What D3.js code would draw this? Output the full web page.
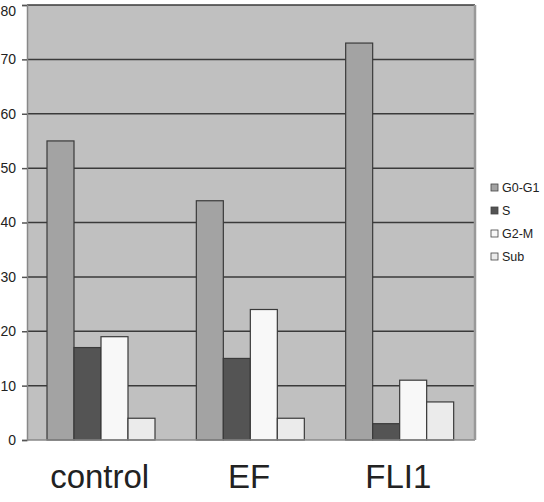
<!DOCTYPE html>
<html>
<head>
<meta charset="utf-8">
<script src="https://cdn.jsdelivr.net/npm/d3@7"></script>
<style>
	body { margin: 0; background: #fff; }
	text { font-family: "Liberation Sans", Arial, sans-serif; fill: #222; }
</style>
</head>
<body>
<svg id="svg"></svg>
<script>
const categories = ['control', 'EF', 'FLI1'];
const series = ['G0-G1', 'S', 'G2-M', 'Sub'];
const values = {
	'G0-G1': [55, 44, 73],
	'S': [17, 15, 3],
	'G2-M': [19, 24, 11],
	'Sub': [4, 4, 7]
};
const yTicks = [0, 10, 20, 30, 40, 50, 60, 70, 80];
const colors = {'G0-G1': '#a3a3a3', 'S': '#545454', 'G2-M': '#f8f8f8', 'Sub': '#ebebeb'};

const width = 544, height = 502;
const plot = {left: 27, right: 475, top: 5, bottom: 440};

const svg = d3.select('#svg').attr('width', width).attr('height', height);

const x0 = d3.scaleBand()
	.domain(categories)
	.range([plot.left, plot.right]);
const x1 = d3.scaleBand()
	.domain(series)
	.range([20, 128]);
const y = d3.scaleLinear()
	.domain([0, 80])
	.range([plot.bottom, plot.top]);

// plot background
svg.append('rect')
	.attr('x', plot.left)
	.attr('y', plot.top)
	.attr('width', plot.right - plot.left)
	.attr('height', plot.bottom - plot.top)
	.attr('fill', '#c0c0c0');

// gridlines
svg.append('g').selectAll('line')
	.data(yTicks.filter(d => d > 0))
	.enter()
	.append('line')
		.attr('x1', plot.left)
		.attr('x2', plot.right)
		.attr('y1', d => y(d))
		.attr('y2', d => y(d))
		.attr('stroke', '#3a3a3a')
		.attr('stroke-width', 1.5);

// y axis
const yAxis = svg.append('g')
	.attr('transform', `translate(${plot.left},0)`)
	.call(d3.axisLeft(y).tickValues(yTicks).tickSize(5).tickPadding(6));
yAxis.select('.domain').attr('stroke', '#888').attr('stroke-width', 1.5);
yAxis.selectAll('.tick line').attr('stroke', '#555').attr('stroke-width', 1.5);
yAxis.selectAll('.tick text')
	.style('font-family', '"Liberation Sans", Arial, sans-serif')
	.style('font-size', '14px')
	.attr('fill', '#222')
	.attr('dy', d => d === 80 ? '0.75em' : '0.32em');

// bars
const groupG = svg.selectAll('g.group')
	.data(categories)
	.enter()
	.append('g')
		.attr('class', 'group')
		.attr('transform', d => `translate(${x0(d)},0)`);

groupG.selectAll('rect')
	.data((cat, i) => series.map(s => ({key: s, value: values[s][i]})))
	.enter()
	.append('rect')
		.attr('x', d => x1(d.key))
		.attr('y', d => y(d.value))
		.attr('width', x1.bandwidth())
		.attr('height', d => y(0) - y(d.value))
		.attr('fill', d => colors[d.key])
		.attr('stroke', '#3a3a3a')
		.attr('stroke-width', 1.2);

// bottom and right frame
svg.append('line')
	.attr('x1', plot.left).attr('x2', plot.right)
	.attr('y1', plot.bottom).attr('y2', plot.bottom)
	.attr('stroke', '#888').attr('stroke-width', 1.5);
svg.append('line')
	.attr('x1', plot.right).attr('x2', plot.right)
	.attr('y1', plot.top).attr('y2', plot.bottom)
	.attr('stroke', '#999').attr('stroke-width', 2.5);

// category labels
svg.append('g').selectAll('text')
	.data(categories)
	.enter()
	.append('text')
		.attr('x', d => x0(d) + x0.bandwidth() / 2 - 2)
		.attr('y', 488)
		.attr('text-anchor', 'middle')
		.style('font-size', '33px')
		.text(d => d);

// legend
const legend = svg.append('g')
	.attr('transform', 'translate(491,184)');
const item = legend.selectAll('g')
	.data(series)
	.enter()
	.append('g')
		.attr('transform', (d, i) => `translate(0,${i * 23})`);
item.append('rect')
	.attr('width', 7)
	.attr('height', 7)
	.attr('fill', d => colors[d])
	.attr('stroke', '#444')
	.attr('stroke-width', 0.8);
item.append('text')
	.attr('x', 11)
	.attr('y', 8)
	.style('font-size', '12.5px')
	.text(d => d);
</script>
</body>
</html>
